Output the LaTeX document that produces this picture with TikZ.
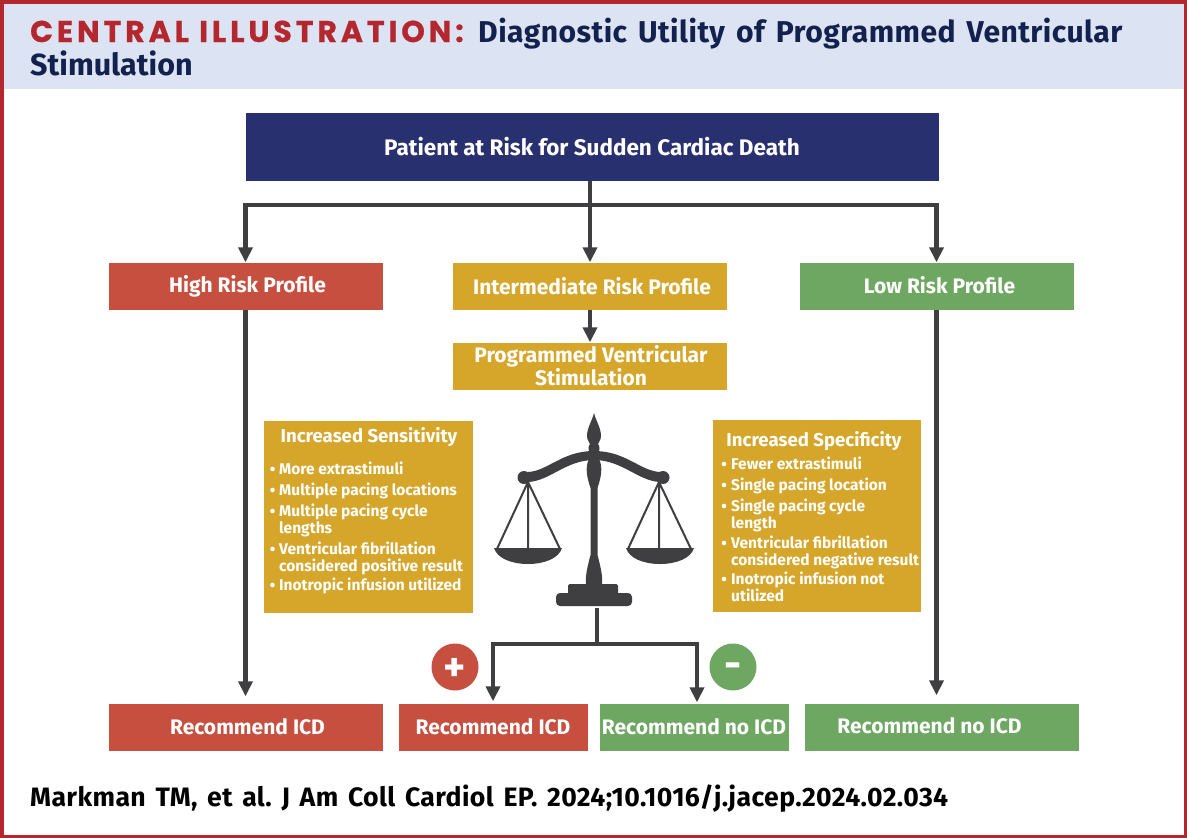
\documentclass[tikz,border=0pt]{standalone}
\usepackage{fontspec}
\setmainfont{Fira Sans}
\newfontfamily\wide{Poppins}[LetterSpace=13,BoldFont={Poppins Bold},BoldFeatures={LetterSpace=13,FakeBold=0.8}]
\newfontfamily\widebody{Fira Sans}[WordSpace=1.45,LetterSpace=1.5]
\usetikzlibrary{arrows.meta}
\definecolor{frame}{HTML}{B5272F}
\definecolor{band}{HTML}{DCE3F3}
\definecolor{navy}{HTML}{29306F}
\definecolor{ink}{HTML}{12214E}
\definecolor{redbox}{HTML}{C64F3F}
\definecolor{goldbox}{HTML}{D6A62B}
\definecolor{greenbox}{HTML}{6EA762}
\definecolor{arrow}{HTML}{3F3F42}
\tikzset{
 x=1pt,y=-1pt,
 box/.style={inner sep=0pt,text=white,font=\fontsize{21}{21}\selectfont\bfseries,align=center},
 conn/.style={draw=arrow,line width=4.5pt,-{Triangle[length=15pt,width=14pt]}},
 plain/.style={draw=arrow,line width=4.5pt},
 panel/.style={fill=goldbox,inner sep=0pt},
 bul/.style={anchor=base west,yshift=-5.5pt,inner sep=0pt,text=white,font=\fontsize{15.5}{16}\selectfont\bfseries},
 head/.style={anchor=center,inner sep=0pt,text=white,font=\fontsize{18.6}{20}\selectfont\bfseries},
 sc/.style={fill=arrow,draw=none},
 badge/.style={circle,minimum size=47pt,inner sep=0pt,text=white,font=\fontsize{42}{42}\selectfont\bfseries}
}
\newcommand{\bx}[6]{\node[box,fill=#5,minimum width=#3pt,minimum height=#4pt] (#1) at (#2) {#6};}
\begin{document}
\frenchspacing
\begin{tikzpicture}
\useasboundingbox (0,0) rectangle (1187,838);
\fill[white] (0,0) rectangle (1187,838);
\fill[band] (0,0) rectangle (1187,89);
\draw[frame,line width=3.5pt] (1.75,1.75) rectangle (1185.25,836.25);
\node[anchor=base west,inner sep=0pt,text=frame,font=\wide\fontsize{30}{30}\selectfont\bfseries] (t1) at (30,42) {CENTRAL ILLUSTRATION:};
\node[anchor=base west,inner sep=0pt,text=ink,font=\widebody\fontsize{30.1}{30}\selectfont\bfseries] (t2) at (478,42) {Diagnostic Utility of Programmed Ventricular};
\node[anchor=base west,inner sep=0pt,text=ink,font=\fontsize{30.5}{30}\selectfont\bfseries] (t3) at (30,75) {Stimulation};
\bx{top}{592,147}{693}{68}{navy}{\fontsize{22.5}{24}\selectfont Patient at Risk for Sudden Cardiac Death}
\bx{high}{245.5,286}{274}{47}{redbox}{\raisebox{2pt}{\hspace*{4pt}High Risk Profile}}
\bx{inter}{590,286}{274}{47}{goldbox}{\hspace*{4pt}Intermediate Risk Profile}
\bx{low}{936.5,286}{274}{47}{greenbox}{\raisebox{2pt}{\hspace*{6pt}Low Risk Profile}}
\bx{pvs}{590,366}{274}{47}{goldbox}{\hspace*{2pt}Programmed Ventricular\\\hspace*{2pt}Stimulation}
\bx{r1}{245.5,727}{274}{47}{redbox}{\hspace*{4pt}Recommend ICD}
\bx{r2}{493,727}{189}{47}{redbox}{Recommend ICD}
\bx{r3}{694,727}{189}{47}{greenbox}{Recommend no ICD}
\bx{r4}{942,727}{274}{47}{greenbox}{\raisebox{2pt}{Recommend no ICD\hspace*{25pt}}}
% branch
\coordinate (b0) at (590,205);
\coordinate (bl) at (245.5,205);
\coordinate (br) at (936.5,205);
\draw[plain] (top.south -| b0) -- (b0);
\draw[plain] ([xshift=-2.25pt]bl) -- ([xshift=2.25pt]br);
\draw[conn] (bl) -- (high.north);
\draw[conn] (b0) -- (inter.north);
\draw[conn] (br) -- (low.north);
\draw[conn] (inter.south) -- (pvs.north);
\coordinate (a1) at (245.5,309.5);
\coordinate (a2) at (936.5,309.5);
\draw[conn,shorten >=7pt] (a1) -- (r1.north -| a1);
\draw[conn,shorten >=8pt] (a2) -- (r4.north -| a2);
% panels
\node[panel,minimum width=209pt,minimum height=192pt] (pl) at (368,517) {};
\node[panel,minimum width=208pt,minimum height=192pt] (pr) at (817,516) {};
\node[head] at (369,437) {Increased Sensitivity};
\node[head] at (814,441) {Increased Specificity};
\foreach \y/\t in {469/More extrastimuli,490/Multiple pacing locations,511/Multiple pacing cycle,549/Ventricular fibrillation,585/Inotropic infusion utilized}
  \node[bul] at (279,\y) {\t};
\foreach \y in {469,490,511,549,585} \fill[white] (272.5,\y) circle (2.3pt);
\node[bul] at (279,528) {lengths};
\node[bul] at (279,566) {considered positive result};
\foreach \y/\t in {464/Fewer extrastimuli,485/Single pacing location,506/Single pacing cycle,543/Ventricular fibrillation,579/Inotropic infusion not}
  \node[bul] at (731,\y) {\t};
\foreach \y in {464,485,506,543,579} \fill[white] (724,\y) circle (2.3pt);
\node[bul] at (731,523) {length};
\node[bul] at (731,560) {considered negative result};
\node[bul] at (731,596) {utilized};
% scale
\fill[sc] (594,413) .. controls (596,421) and (601,428) .. (601,436) .. controls (601,441) and (598,442) .. (598,444) .. controls (600,446) and (600,450) .. (598,453)
 -- (598,457) .. controls (602,464) and (603,472) .. (597.5,488) -- (597.5,555) .. controls (600,565) and (603,575) .. (602,585)
 -- (586,585) .. controls (585,575) and (588,565) .. (590.5,555) -- (590.5,488) .. controls (585,472) and (586,464) .. (590,457) -- (590,453)
 .. controls (588,450) and (588,446) .. (590,444) .. controls (590,442) and (587,441) .. (587,436) .. controls (587,428) and (592,421) .. (594,413) -- cycle;
\fill[sc] (528,472) .. controls (548,471) and (562,451) .. (594,451) .. controls (626,451) and (640,471) .. (660,472) -- (660,482)
 .. controls (638,481) and (622,460) .. (594,460) .. controls (566,460) and (550,481) .. (528,482) -- cycle;
\fill[sc] (524,477.5) circle (6.5pt);
\fill[sc] (663,477.5) circle (6.5pt);
\draw[arrow,line width=2pt] (497,549) -- (528,482) -- (560,549) (528,482) -- (528,549);
\draw[arrow,line width=2pt] (628,549) -- (659,482) -- (691,549) (659,482) -- (659,549);
\fill[sc] (494,548) -- (562,548) .. controls (559,558) and (545,564) .. (528,564) .. controls (511,564) and (497,558) .. (494,548) -- cycle;
\fill[sc] (626,548) -- (694,548) .. controls (691,558) and (677,564) .. (660,564) .. controls (643,564) and (629,558) .. (626,548) -- cycle;
\fill[sc,rounded corners=1.5pt] (568,584) rectangle (618,596);
\fill[sc,rounded corners=4pt] (556,593) rectangle (632,606);
% lower branch
\coordinate (s0) at (597,608);
\coordinate (s1) at (597,644);
\coordinate (sl) at (493,644);
\coordinate (sr) at (697,644);
\draw[plain] (s0) -- (s1);
\draw[plain] ([xshift=-2.25pt]sl) -- ([xshift=2.25pt]sr);
\draw[conn,shorten >=2pt] (sl) -- (sl |- r2.north);
\draw[conn,shorten >=1pt] (sr) -- (sr |- r3.north);
% badges
\node[badge,fill=redbox] (plus) at (455,667) {\smash{\raisebox{-14pt}{+}}};
\node[badge,fill=greenbox] (minus) at (733,667) {\smash{\raisebox{-11pt}{-}}};
\node[anchor=base west,inner sep=0pt,text=black,font=\widebody\fontsize{26.6}{27}\selectfont\bfseries] (cite) at (30,806) {Markman TM, et al. J Am Coll Cardiol EP. 2024;10.1016/j.jacep.2024.02.034};
\end{tikzpicture}
\end{document}
